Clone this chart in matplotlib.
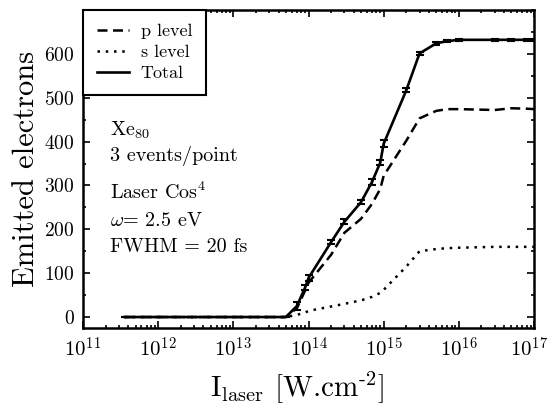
import matplotlib
matplotlib.use("Agg")
import matplotlib.pyplot as plt
import matplotlib.transforms as mtransforms
from matplotlib.lines import Line2D
from matplotlib.ticker import LogLocator, MultipleLocator, NullFormatter

plt.rcParams['font.family'] = 'serif'
plt.rcParams['font.serif'] = ['cmr10']
plt.rcParams['mathtext.fontset'] = 'cm'
plt.rcParams['axes.formatter.use_mathtext'] = True

intensity = [3.6e11, 1e12, 1e13, 5e13, 7e13, 9e13, 1e14, 2e14, 3e14, 5e14, 7e14, 9e14,
             1e15, 2e15, 3e15, 5e15, 7e15, 1e16, 3e16, 5e16, 8e16, 1e17]
total = [0, 0, 0, 0, 25, 67, 89, 171, 217, 262, 308, 352,
         395, 517, 601, 624, 629, 632, 632, 632, 632, 632]
total_err = [0, 0, 0, 0, 10, 6, 6, 5, 6, 5, 6, 6,
             8, 5, 4, 3, 3, 3, 3, 3, 3, 3]
p_level = [0, 0, 0, 0, 20, 60, 78, 142, 192, 224, 258, 292,
           322, 402, 453, 470, 474, 474, 472, 476, 475, 474]
s_level = [0, 0, 0, 0, 5, 10, 14, 24, 30, 38, 46, 55,
           62, 115, 150, 155, 157, 158, 160, 160, 160, 160]

x_ticks = [1e11, 1e12, 1e13, 1e14, 1e15, 1e16, 1e17]
x_ticklabels = [r'$10^{11}$', r'$10^{12}$', r'$10^{13}$', r'$10^{14}$',
                r'$10^{15}$', r'$10^{16}$', r'$10^{17}$']
y_ticks = [0, 100, 200, 300, 400, 500, 600]

annot_lines = [r'Xe$_{80}$', '3 events/point']
annot_lines2 = [r'Laser Cos$^{4}$', r'$\omega$= 2.5 eV', 'FWHM = 20 fs']

fig = plt.figure(figsize=(5.5, 4.07), dpi=100)
ax = fig.add_axes([83/550, 1-328/407, (534-83)/550, (328-10)/407])

ax.plot(intensity, p_level, color='black', lw=1.8, ls=(0, (4, 2.2)))
ax.plot(intensity, s_level, color='black', lw=1.8, ls=(0, (1, 2.3)))
ax.errorbar(intensity, total, yerr=total_err, color='black', lw=1.9,
            capsize=3, capthick=1.5, elinewidth=1.5)

ax.set_xscale('log')
ax.set_xlim(1e11, 1e17)
ax.set_ylim(-25, 700)
ax.set_xticks(x_ticks)
ax.set_xticklabels(x_ticklabels)
ax.xaxis.set_minor_locator(LogLocator(base=10, subs=range(2, 10), numticks=20))
ax.xaxis.set_minor_formatter(NullFormatter())
ax.set_yticks(y_ticks)
ax.yaxis.set_minor_locator(MultipleLocator(50))
ax.tick_params(which='both', direction='in', top=True, right=True, width=1.2)
ax.tick_params(axis='y', labelsize=14)
ax.tick_params(axis='x', labelsize=15)
ax.tick_params(which='major', length=5, pad=6)
ax.tick_params(which='minor', length=2.5)
for sp in ax.spines.values():
    sp.set_linewidth(1.8)

# keep the last x tick label inside the figure
last = ax.get_xticklabels()[-1]
last.set_transform(last.get_transform() +
                   mtransforms.ScaledTranslation(-5/100, 0, fig.dpi_scale_trans))

ax.set_ylabel('Emitted electrons', fontsize=22, labelpad=3)
ax.set_xlabel(r'I$_{\rm laser}$ [W.cm$^{\rm \text{-}2}$]', fontsize=21, labelpad=6)
ax.xaxis.set_label_coords(0.475, -0.13)

handles = [Line2D([], [], color='black', lw=1.8, ls=(0, (4, 2.2))),
           Line2D([], [], color='black', lw=1.8, ls=(0, (1, 2.3))),
           Line2D([], [], color='black', lw=1.9)]
labels = ['p level', 's level', 'Total']
leg = ax.legend(handles, labels, loc='upper left', fontsize=13, frameon=True, fancybox=False,
                edgecolor='black', handlelength=1.8, borderaxespad=0, borderpad=0.75,
                labelspacing=0.3, handletextpad=0.65, framealpha=1)
leg.get_frame().set_linewidth(1.5)

base1 = [0.604, 0.525]
base2 = [0.406, 0.321, 0.239]
for t, yb in zip(annot_lines, base1):
    ax.text(0.06, yb, t, transform=ax.transAxes, fontsize=14.5, va='baseline')
for t, yb in zip(annot_lines2, base2):
    ax.text(0.06, yb, t, transform=ax.transAxes, fontsize=14.5, va='baseline')

fig.savefig('out.png', dpi=100)
